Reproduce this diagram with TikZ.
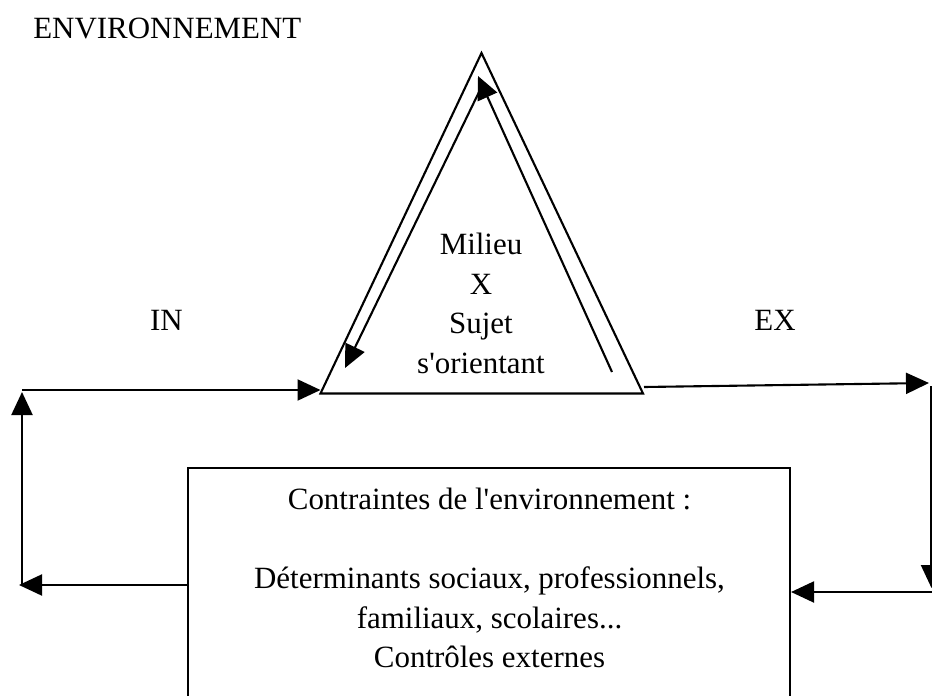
\documentclass[tikz,border=0pt]{standalone}
\usepackage{fontspec}
\setmainfont{Liberation Serif}
\usetikzlibrary{arrows.meta}
\tikzset{
	fleche/.style={-{Triangle[length=0.46cm, width=0.42cm]}, line width=1.2pt},
	texte/.style={inner sep=0pt, font=\fontsize{17.6}{22.5}\selectfont, align=center},
}

\begin{document}
\begin{tikzpicture}
		\useasboundingbox (0,0) rectangle (18.64,13.9);
		\clip (0,0) rectangle (18.64,13.9);
		%
		%Environnement
		\node[texte, anchor=west] (titre) at (0.66, 13.33) {ENVIRONNEMENT};
		%
		%Triangle
		\coordinate (apex) at (9.63, 12.84);
		\coordinate (bl) at (6.41, 6.03);
		\coordinate (br) at (12.86, 6.03);
		\draw[line width = 1.2pt, line join=miter] (bl) -- (apex) -- (br) -- cycle;
		\node[texte, anchor=north] (sujet) at (9.62, 9.24) {Milieu\\ X\\ Sujet\\ s\textquotesingle orientant};
		%
		%Fleches dans le triangle
		\coordinate (hautg) at (9.60, 12.10);
		\coordinate (basg) at (6.90, 6.54);
		\coordinate (basd) at (12.24, 6.46);
		\coordinate (hautd) at (9.56, 12.38);
		\draw[fleche] (hautg) -- (basg);
		\draw[fleche] (basd) -- (hautd);
		%
		%Contraintes
		\node[draw, line width = 1.2pt, minimum width=12.04cm, minimum height=4.64cm, inner sep=0pt] (env) at (9.78, 2.22) {};
		\node[texte, anchor=north] (envtexte) at (9.79, 4.14) {Contraintes de l\textquotesingle environnement :\\[22.5pt]
			D\'eterminants sociaux, professionnels,\\ familiaux, scolaires...\\ Contr\^oles externes};
		%
		%IN
		\node[texte] (in) at (3.33, 7.5) {IN};
		\coordinate (inbas) at (0.38, 2.20);
		\coordinate (incoin) at (0.44, 2.20);
		\coordinate (inhaut) at (0.44, 6.10);
		\draw[fleche] (env.west |- inbas) -- (inbas);
		\draw[fleche] (incoin) -- ([yshift=-0.04cm]inhaut);
		\draw[fleche] (inhaut) -- (inhaut -| bl);
		%
		%EX
		\node[texte] (ex) at (15.5, 7.5) {EX};
		\coordinate (exdepart) at (12.88, 6.16);
		\coordinate (exfin) at (18.58, 6.24);
		\coordinate (excoin) at (18.63, 6.18);
		\coordinate (exfleche) at (18.63, 2.14);
		\coordinate (exbas) at (18.64, 2.06);
		\draw[fleche] (exdepart) -- (exfin);
		\draw[fleche] (excoin) -- (exfleche);
		\draw[fleche] (exbas) -- (env.east |- exbas);
	\end{tikzpicture}
\end{document}
